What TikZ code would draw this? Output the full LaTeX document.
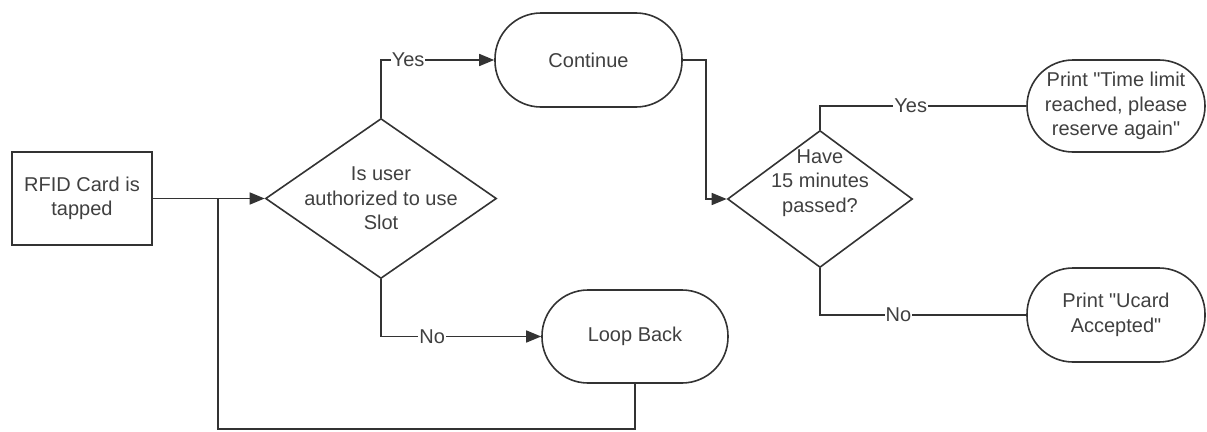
\documentclass[tikz,border=0pt]{standalone}
\usepackage{fontspec}
\setmainfont{Liberation Sans}
\usetikzlibrary{shapes.geometric,arrows.meta}
\begin{document}
\begin{tikzpicture}[x=1pt, y=-1pt]
    \tikzstyle{every node} = [font=\fontsize{20}{24.5}\selectfont, text=black!75]
    \tikzstyle{process} = [draw=black!80, line width=1.6pt, minimum width=140pt, minimum height=93pt, align=center]
    \tikzstyle{terminal} = [draw=black!80, line width=1.6pt, rounded corners=46pt, minimum height=93pt, align=center]
    \tikzstyle{decision} = [draw=black!80, line width=1.6pt, diamond, inner sep=0pt]
    \tikzstyle{flow} = [draw=black!80, line width=1.6pt]
    \tikzstyle{arrow} = [flow, -{Triangle[length=15pt, width=12pt]}]
    \tikzstyle{answer} = [fill=white, inner sep=1pt]
    \useasboundingbox (0, 0) rectangle (1207, 431);
    \node[process] (rfid) at (82, 198.5) {RFID Card is\\tapped};
    \node[decision, minimum width=231pt, minimum height=160pt,
          label={[align=center]center:Is user\\authorized to use\\Slot}] (auth) at (381, 198.5) {};
    \node[terminal, minimum width=187pt, minimum height=94pt] (cont) at (588.5, 60) {Continue};
    \node[terminal, minimum width=186pt] (loop) at (635, 336.5) {Loop Back};
    \node[decision, minimum width=185pt, minimum height=137pt,
          label={[align=center, yshift=16pt]center:Have\\15 minutes\\passed?}] (chk) at (820, 199) {};
    \node[terminal, minimum width=178pt, minimum height=92pt] (timeout) at (1116, 106)
        {Print \textquotedbl Time limit\\reached, please\\reserve again\textquotedbl};
    \node[terminal, minimum width=178pt, minimum height=94pt] (accept) at (1116, 315)
        {Print \textquotedbl Ucard\\Accepted\textquotedbl};
    \coordinate (join) at (218, 198.5);
    \draw[arrow] (rfid) -- (auth.west);
    \draw[arrow] (auth.north) |- node[answer, pos=0.62] {Yes} (cont.west);
    \draw[arrow] (auth.south) |- node[answer, pos=0.66] {No} (loop.west);
    \draw[flow] (loop.south) -- ++(0, 45) -| (join);
    \draw[arrow] (cont.east) -- ++(23, 0) |- (chk.west);
    \draw[flow] (chk.north) |- node[answer, pos=0.72] {Yes} (timeout.west);
    \draw[flow] (chk.south) |- node[answer, pos=0.69] {No} (accept.west);
\end{tikzpicture}
\end{document}
